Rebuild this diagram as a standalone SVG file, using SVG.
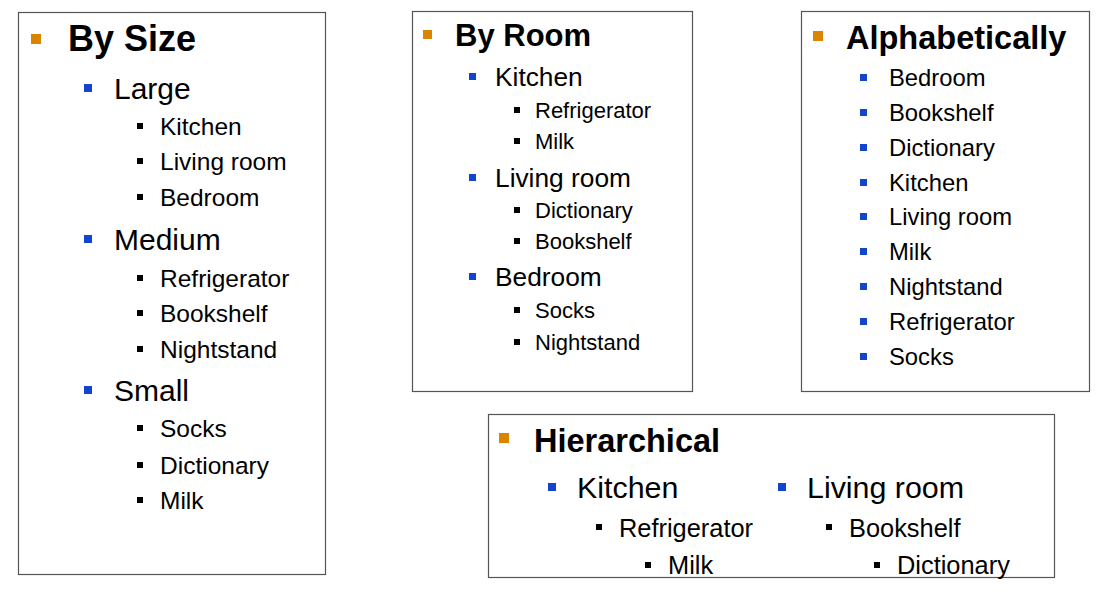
<svg xmlns="http://www.w3.org/2000/svg" width="1106" height="595" viewBox="0 0 1106 595">
<style>
text{font-family:"Liberation Sans",Arial,sans-serif;fill:#000}
.t{font-weight:bold}
.box{fill:#fff;stroke:#555;stroke-width:1.2}
.o{fill:#DB8400}
.b{fill:#1244CC}
.k{fill:#000}
</style>
<rect width="1106" height="595" fill="#fff"/>
<g id="by-size">
<rect class="box" x="18.5" y="12.5" width="307" height="562"/>
<rect class="o" x="31" y="34" width="10" height="10"/>
<text class="t" x="68" y="51" font-size="36">By Size</text>
<g font-size="30">
<rect class="b" x="84" y="84" width="8" height="8"/><text x="114" y="99">Large</text>
<rect class="b" x="84" y="235" width="8" height="8"/><text x="114" y="250">Medium</text>
<rect class="b" x="84" y="386" width="8" height="8"/><text x="114" y="401">Small</text>
</g>
<g font-size="24.5">
<rect class="k" x="137" y="123" width="6" height="6"/><text x="160" y="135">Kitchen</text>
<rect class="k" x="137" y="158" width="6" height="6"/><text x="160" y="170">Living room</text>
<rect class="k" x="137" y="194" width="6" height="6"/><text x="160" y="206">Bedroom</text>
<rect class="k" x="137" y="275" width="6" height="6"/><text x="160" y="287">Refrigerator</text>
<rect class="k" x="137" y="310" width="6" height="6"/><text x="160" y="322">Bookshelf</text>
<rect class="k" x="137" y="346" width="6" height="6"/><text x="160" y="358">Nightstand</text>
<rect class="k" x="137" y="425" width="6" height="6"/><text x="160" y="437">Socks</text>
<rect class="k" x="137" y="462" width="6" height="6"/><text x="160" y="474">Dictionary</text>
<rect class="k" x="137" y="497" width="6" height="6"/><text x="160" y="509">Milk</text>
</g>
</g>
<g id="by-room">
<rect class="box" x="412.5" y="11.5" width="280" height="380"/>
<rect class="o" x="423" y="30" width="9" height="9"/>
<text class="t" x="455" y="46" font-size="31">By Room</text>
<g font-size="26.3">
<rect class="b" x="469" y="73" width="7" height="7"/><text x="495" y="86">Kitchen</text>
<rect class="b" x="469" y="174" width="7" height="7"/><text x="495" y="187">Living room</text>
<rect class="b" x="469" y="273" width="7" height="7"/><text x="495" y="286">Bedroom</text>
</g>
<g font-size="22">
<rect class="k" x="514" y="107" width="6" height="6"/><text x="535" y="118">Refrigerator</text>
<rect class="k" x="514" y="138" width="6" height="6"/><text x="535" y="149">Milk</text>
<rect class="k" x="514" y="207" width="6" height="6"/><text x="535" y="218">Dictionary</text>
<rect class="k" x="514" y="238" width="6" height="6"/><text x="535" y="249">Bookshelf</text>
<rect class="k" x="514" y="307" width="6" height="6"/><text x="535" y="318">Socks</text>
<rect class="k" x="514" y="339" width="6" height="6"/><text x="535" y="350">Nightstand</text>
</g>
</g>
<g id="alphabetically">
<rect class="box" x="801.5" y="11.5" width="288" height="380"/>
<rect class="o" x="813" y="31" width="10" height="10"/>
<text class="t" x="846" y="48.5" font-size="32.5">Alphabetically</text>
<g font-size="23.8">
<rect class="b" x="860" y="74" width="7" height="7"/><text x="889" y="85.5">Bedroom</text>
<rect class="b" x="860" y="109" width="7" height="7"/><text x="889" y="120.5">Bookshelf</text>
<rect class="b" x="860" y="144" width="7" height="7"/><text x="889" y="155.5">Dictionary</text>
<rect class="b" x="860" y="179" width="7" height="7"/><text x="889" y="190.5">Kitchen</text>
<rect class="b" x="860" y="213" width="7" height="7"/><text x="889" y="224.5">Living room</text>
<rect class="b" x="860" y="248" width="7" height="7"/><text x="889" y="259.5">Milk</text>
<rect class="b" x="860" y="283" width="7" height="7"/><text x="889" y="294.5">Nightstand</text>
<rect class="b" x="860" y="318" width="7" height="7"/><text x="889" y="329.5">Refrigerator</text>
<rect class="b" x="860" y="353" width="7" height="7"/><text x="889" y="364.5">Socks</text>
</g>
</g>
<g id="hierarchical">
<rect class="box" x="488.5" y="414.5" width="566" height="163"/>
<rect class="o" x="499" y="433" width="10" height="10"/>
<text class="t" x="534" y="452" font-size="32.5">Hierarchical</text>
<g font-size="30.4">
<rect class="b" x="548" y="483" width="8" height="8"/><text x="577" y="498">Kitchen</text>
<rect class="b" x="778" y="483" width="8" height="8"/><text x="807" y="498">Living room</text>
</g>
<g font-size="25.4">
<rect class="k" x="596" y="524" width="6" height="6"/><text x="619" y="537">Refrigerator</text>
<rect class="k" x="826" y="524" width="6" height="6"/><text x="849" y="537">Bookshelf</text>
<rect class="k" x="645" y="562" width="6" height="6"/><text x="668" y="574">Milk</text>
<rect class="k" x="874" y="562" width="6" height="6"/><text x="897" y="574">Dictionary</text>
</g>
</g>
</svg>
